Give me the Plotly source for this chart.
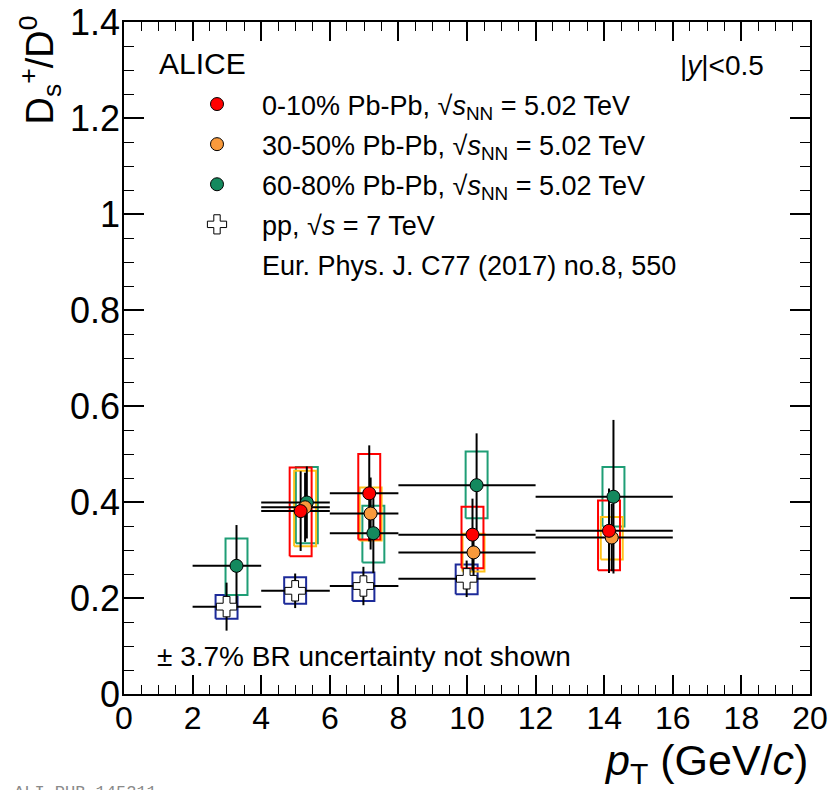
import plotly.graph_objects as go

# ---------------- data ----------------
# pp, sqrt(s) = 7 TeV
pp_lo = [2, 4, 6, 8]
pp_hi = [4, 6, 8, 12]
pp_x = [2.99, 4.99, 6.98, 9.99]
pp_y = [0.182, 0.215, 0.225, 0.240]
pp_stat = [0.050, 0.036, 0.040, 0.038]
pp_syslo = [0.157, 0.188, 0.194, 0.208]
pp_syshi = [0.206, 0.243, 0.253, 0.270]

# 60-80% Pb-Pb
c6080_lo = [2, 4, 6, 8, 12]
c6080_hi = [4, 6, 8, 12, 16]
c6080_x = [3.28, 5.33, 7.27, 10.28, 14.27]
c6080_y = [0.267, 0.399, 0.335, 0.435, 0.411]
c6080_stat = [0.085, 0.075, 0.083, 0.108, 0.160]
c6080_syslo = [0.206, 0.314, 0.274, 0.366, 0.349]
c6080_syshi = [0.324, 0.473, 0.392, 0.505, 0.473]

# 30-50% Pb-Pb
c3050_lo = [4, 6, 8, 12]
c3050_hi = [6, 8, 12, 16]
c3050_x = [5.28, 7.19, 10.19, 14.22]
c3050_y = [0.389, 0.376, 0.295, 0.326]
c3050_stat = [0.072, 0.075, 0.050, 0.070]
c3050_syslo = [0.308, 0.320, 0.255, 0.280]
c3050_syshi = [0.465, 0.430, 0.334, 0.369]

# 0-10% Pb-Pb
c010_lo = [4, 6, 8, 12]
c010_hi = [6, 8, 12, 16]
c010_x = [5.15, 7.15, 10.16, 14.14]
c010_y = [0.381, 0.418, 0.332, 0.340]
c010_stat = [0.083, 0.100, 0.075, 0.088]
c010_syslo = [0.287, 0.322, 0.262, 0.258]
c010_syshi = [0.472, 0.500, 0.390, 0.403]

x_ticks = [0, 2, 4, 6, 8, 10, 12, 14, 16, 18, 20]
y_ticks = [0, 0.2, 0.4, 0.6, 0.8, 1.0, 1.2, 1.4]
y_ticktext = ["0", "0.2", "0.4", "0.6", "0.8", "1", "1.2", "1.4"]

# ---------------- styling ----------------
W, H = 831, 790
L, R, T, B = 124, 810, 22, 694
FONT = "Liberation Sans, Arial, Helvetica, sans-serif"
BOX_HW = 0.32

series = [
    dict(name="pp, \u221a<i>s</i> = 7 TeV", lo=pp_lo, hi=pp_hi, x=pp_x, y=pp_y,
         stat=pp_stat, slo=pp_syslo, shi=pp_syshi, mcolor="white",
         bcolor="#1c2a99", symbol="cross", size=17, rank=4),
    dict(name="60-80% Pb-Pb, \u221a<i>s</i><sub>NN</sub> = 5.02 TeV", lo=c6080_lo,
         hi=c6080_hi, x=c6080_x, y=c6080_y, stat=c6080_stat, slo=c6080_syslo,
         shi=c6080_syshi, mcolor="#14895e", bcolor="#1f9e76", symbol="circle",
         size=13, rank=3),
    dict(name="30-50% Pb-Pb, \u221a<i>s</i><sub>NN</sub> = 5.02 TeV", lo=c3050_lo,
         hi=c3050_hi, x=c3050_x, y=c3050_y, stat=c3050_stat, slo=c3050_syslo,
         shi=c3050_syshi, mcolor="#f99a3c", bcolor="#ffc21a", symbol="circle",
         size=13, rank=2),
    dict(name="0-10% Pb-Pb, \u221a<i>s</i><sub>NN</sub> = 5.02 TeV", lo=c010_lo,
         hi=c010_hi, x=c010_x, y=c010_y, stat=c010_stat, slo=c010_syslo,
         shi=c010_syshi, mcolor="#ff0000", bcolor="#ff0000", symbol="circle",
         size=13, rank=1),
]

fig = go.Figure()

# systematic boxes
for s in series:
    bx, by = [], []
    for xi, lo, hi in zip(s["x"], s["slo"], s["shi"]):
        bx += [xi - BOX_HW, xi + BOX_HW, xi + BOX_HW, xi - BOX_HW, xi - BOX_HW, None]
        by += [lo, lo, hi, hi, lo, None]
    fig.add_trace(go.Scatter(x=bx, y=by, mode="lines",
                             line=dict(color=s["bcolor"], width=2),
                             showlegend=False, hoverinfo="skip"))

# statistical error bars and bin widths
for s in series:
    fig.add_trace(go.Scatter(
        x=s["x"], y=s["y"], mode="markers",
        marker=dict(size=1, color="rgba(0,0,0,0)"),
        error_x=dict(type="data", symmetric=False,
                     array=[h - x for h, x in zip(s["hi"], s["x"])],
                     arrayminus=[x - l for l, x in zip(s["lo"], s["x"])],
                     color="black", thickness=2, width=0),
        error_y=dict(type="data", array=s["stat"], color="black",
                     thickness=2, width=0),
        showlegend=False, hoverinfo="skip"))

# markers
for s in series:
    fig.add_trace(go.Scatter(
        x=s["x"], y=s["y"], mode="markers", name=s["name"],
        legendgroup=s["name"], legendrank=s["rank"],
        marker=dict(symbol=s["symbol"], size=s["size"], color=s["mcolor"],
                    line=dict(color="black", width=1))))

fig.add_trace(go.Scatter(x=[None], y=[None], mode="markers",
                         name="Eur. Phys. J. C77 (2017) no.8, 550",
                         legendgroup="ref", legendrank=5,
                         marker=dict(size=1, color="rgba(0,0,0,0)")))


def px(xp):
    return (xp - L) / (R - L)


def py(yp):
    return (B - yp) / (B - T)


annots = [
    dict(text="ALICE", x=px(157), y=py(63), xanchor="left", yanchor="middle",
         font=dict(size=30)),
    dict(text="|<i>y</i>|&lt;0.5", x=px(766), y=py(65), xanchor="right",
         yanchor="middle", font=dict(size=28)),
    dict(text="\u00b1 3.7% BR uncertainty not shown", x=px(155), y=py(656),
         xanchor="left", yanchor="middle", font=dict(size=28)),
    dict(text="<i>p</i><sub>T</sub> (GeV/<i>c</i>)", x=px(810), y=py(763),
         xanchor="right", yanchor="middle", font=dict(size=43)),
    dict(text="D<sub>s</sub><sup>+</sup>/D<sup>0</sup>", x=px(40), y=py(14),
         xanchor="center", yanchor="top", textangle=-90, font=dict(size=38)),
    dict(text="ALI-PUB-145211", x=px(12), y=py(781), xanchor="left",
         yanchor="top", font=dict(size=17, color="#8a8a8a",
                                  family="Liberation Mono, DejaVu Sans Mono, monospace")),
]
for a in annots:
    a.update(xref="paper", yref="paper", showarrow=False)
    a["font"].setdefault("color", "black")
    a["font"].setdefault("family", FONT)

fig.update_layout(
    width=W, height=H,
    margin=dict(l=L, r=W - R, t=T, b=H - B, pad=0, autoexpand=False),
    paper_bgcolor="white", plot_bgcolor="white",
    font=dict(family=FONT, color="black"),
    annotations=annots,
    showlegend=True,
    legend=dict(xref="container", yref="container",
                x=172 / W, y=1 - 80 / H, xanchor="left", yanchor="top",
                bgcolor="rgba(0,0,0,0)", borderwidth=0,
                font=dict(size=27, family=FONT, color="black"),
                itemwidth=80, tracegroupgap=2, itemclick=False),
)

fig.update_xaxes(
    range=[0, 20], tickmode="array", tickvals=x_ticks,
    ticks="inside", ticklen=19, tickwidth=1.5, tickcolor="black",
    minor=dict(tickmode="linear", tick0=0, dtick=0.5, ticks="inside",
               ticklen=9, tickwidth=1.2, tickcolor="black"),
    showline=True, linecolor="black", linewidth=1.5, mirror="ticks",
    showgrid=False, zeroline=False, ticklabelstandoff=-5,
    tickfont=dict(size=32, family=FONT, color="black"),
)
fig.update_yaxes(
    range=[0, 1.4], tickmode="array", tickvals=y_ticks, ticktext=y_ticktext,
    ticks="inside", ticklen=20, tickwidth=1.5, tickcolor="black",
    minor=dict(tickmode="linear", tick0=0, dtick=0.05, ticks="inside",
               ticklen=10, tickwidth=1.2, tickcolor="black"),
    showline=True, linecolor="black", linewidth=1.5, mirror="ticks",
    showgrid=False, zeroline=False, ticklabelstandoff=-5,
    tickfont=dict(size=36, family=FONT, color="black"),
)

fig.write_html("out.html")
